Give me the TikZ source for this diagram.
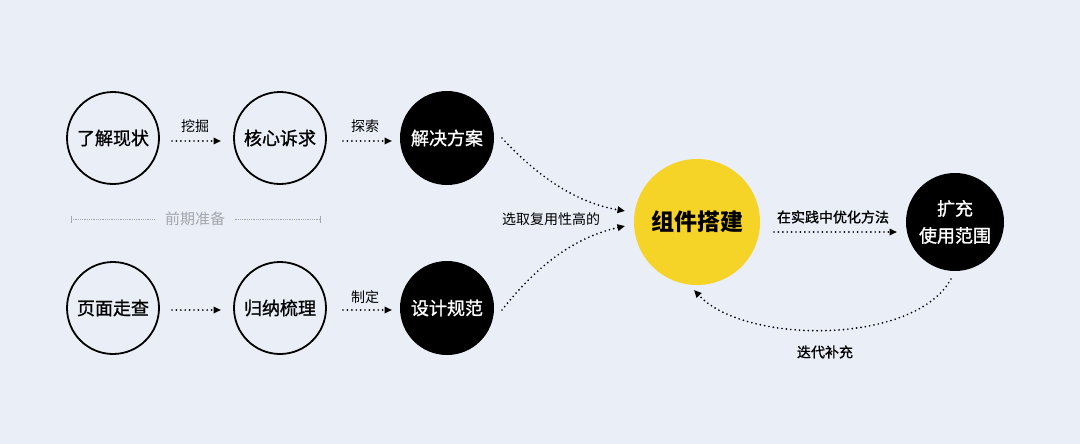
\documentclass[tikz,border=0pt]{standalone}
\usepackage{fontspec}
\setmainfont{Noto Sans CJK SC}
\newfontfamily\medfont{Noto Sans CJK SC}[FakeBold=1.2]
\usetikzlibrary{arrows.meta}
\definecolor{bg}{HTML}{EAEEF7}
\definecolor{yel}{HTML}{F5D327}
\definecolor{greytxt}{HTML}{A3A6AC}
\tikzset{
  wcirc/.style={circle,draw=black,line width=1.8pt,fill=none,minimum size=92pt,inner sep=0pt,font=\fontsize{18}{20}\medfont},
  bcirc/.style={circle,fill=black,text=white,minimum size=94pt,inner sep=0pt,font=\fontsize{18}{20}\medfont},
  conn/.style={line width=1.9pt,dash pattern=on 0pt off 4.4pt,line cap=round,-{Triangle[length=7.5pt,width=6.5pt,line cap=butt,line join=miter]}},
  lbl/.style={font=\fontsize{14}{16}\selectfont,inner sep=1pt},
}
\begin{document}
\begin{tikzpicture}[x=1pt,y=-1pt]
\fill[bg] (0,0) rectangle (1080,444);
\useasboundingbox (0,0) rectangle (1080,444);
% nodes
\node[wcirc] (a) at (113,138) {了解现状};
\node[wcirc] (b) at (280,138) {核心诉求};
\node[bcirc] (c) at (447,138) {解决方案};
\node[wcirc] (d) at (113,308) {页面走查};
\node[wcirc] (e) at (280,308) {归纳梳理};
\node[bcirc] (f) at (447,308) {设计规范};
\node[circle,fill=yel,minimum size=126pt,inner sep=0pt,font=\fontsize{23}{26}\selectfont\bfseries] (g) at (697,222) {组件搭建};
\node[bcirc,minimum size=98pt,align=center,font=\fontsize{18}{27}\medfont] (h) at (955,222) {扩充\\使用范围};
% top row arrows
\coordinate (a1) at (172,141); \coordinate (a2) at (221,141);
\draw[conn] (a1) -- (a2);
\node[lbl] (l1) at (195,126) {挖掘};
\coordinate (b1) at (343,141); \coordinate (b2) at (392,141);
\draw[conn] (b1) -- (b2);
\node[lbl] (l2) at (365,126) {探索};
% bottom row arrows
\coordinate (d1) at (172,310); \coordinate (d2) at (221,310);
\draw[conn] (d1) -- (d2);
\coordinate (e1) at (343,310); \coordinate (e2) at (392,310);
\draw[conn] (e1) -- (e2);
\node[lbl] (l3) at (365,297) {制定};
% separator
\node[font=\fontsize{15}{17}\selectfont,text=greytxt] (sep) at (195,219) {前期准备};
\coordinate (s1) at (71,219); \coordinate (s2) at (320,219);
\draw[greytxt,line width=0.8pt,densely dotted] (s1) -- ([xshift=-6pt]sep.west);
\draw[greytxt,line width=0.8pt,densely dotted] ([xshift=6pt]sep.east) -- (s2);
\draw[greytxt,line width=0.8pt] (71,215.5) -- (71,222.5);
\draw[greytxt,line width=0.8pt] (320,215.5) -- (320,222.5);
% curves into g
\coordinate (c1) at (502,138); \coordinate (c2) at (625,211);
\draw[conn] (c1) .. controls (550,190) and (590,205) .. (c2);
\coordinate (f1) at (502,310); \coordinate (f2) at (625,226);
\draw[conn] (f1) .. controls (545,255) and (585,235) .. (f2);
\node[lbl] (l4) at (551,219) {选取复用性高的};
% g -> h
\coordinate (g1) at (774,232); \coordinate (g2) at (897,232);
\draw[conn] (g1) -- (g2);
\node[lbl,font=\fontsize{14}{16}\medfont] (l5) at (833,217) {在实践中优化方法};
% return
\coordinate (h1) at (951,279); \coordinate (h2) at (694,290);
\draw[conn] (h1) .. controls (915,345) and (745,345) .. (h2);
\node[lbl,font=\fontsize{14}{16}\medfont] (l6) at (825,352) {迭代补充};
\end{tikzpicture}
\end{document}
